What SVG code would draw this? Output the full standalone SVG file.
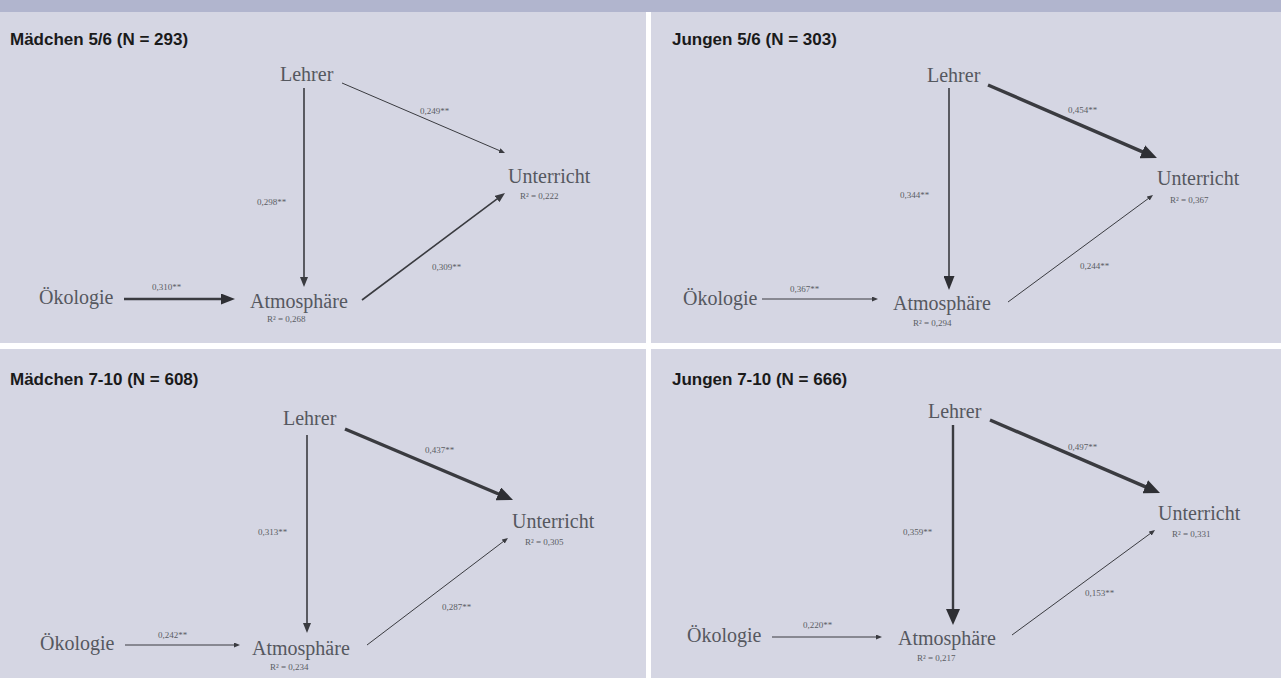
<svg xmlns="http://www.w3.org/2000/svg" width="1281" height="678" viewBox="0 0 1281 678">
<style>
.panel{fill:#d5d6e3}
.band{fill:#b1b5ce}
.title{font-family:"Liberation Sans",Arial,sans-serif;font-weight:bold;font-size:17px;fill:#1a1a1a}
.node{font-family:"Liberation Serif","Times New Roman",serif;font-size:20px;fill:#55585f}
.r2{font-family:"Liberation Serif","Times New Roman",serif;font-size:9px;fill:#5a5d64}
.coef{font-family:"Liberation Serif","Times New Roman",serif;font-size:9px;fill:#5a5d64}
.c{stroke:#3a3b40;fill:none}
.w1{stroke-width:1}
.w2{stroke-width:1.6}
.w3{stroke-width:2.4}
.w4{stroke-width:3.4}
</style>
<defs>
<marker id="s" markerUnits="userSpaceOnUse" markerWidth="7" markerHeight="5" refX="1" refY="2.5" orient="auto"><path d="M0,0 L6,2.5 L0,5 z" fill="#3a3b40"/></marker>
<marker id="m" markerUnits="userSpaceOnUse" markerWidth="11" markerHeight="8" refX="1" refY="4" orient="auto"><path d="M0,0 L10,4 L0,8 z" fill="#3a3b40"/></marker>
<marker id="m2" markerUnits="userSpaceOnUse" markerWidth="15" markerHeight="11" refX="1" refY="5.5" orient="auto"><path d="M0,0 L14,5.5 L0,11 z" fill="#2e2f34"/></marker>
<marker id="l" markerUnits="userSpaceOnUse" markerWidth="17" markerHeight="14" refX="1" refY="7" orient="auto"><path d="M0,0 L16,7 L0,14 z" fill="#2e2f34"/></marker>
</defs>
<rect x="0" y="0" width="1281" height="678" fill="#ffffff"/>
<rect class="band" x="0" y="0" width="1281" height="12"/>
<g id="panel-tl"><rect class="panel" x="0" y="12" width="646" height="331"/><text class="title" x="10" y="45">Mädchen 5/6 (N = 293)</text></g>
<g id="panel-tr"><rect class="panel" x="651" y="12" width="630" height="331"/><text class="title" x="672" y="45">Jungen 5/6 (N = 303)</text></g>
<g id="panel-bl"><rect class="panel" x="0" y="349" width="646" height="329"/><text class="title" x="10" y="385">Mädchen 7-10  (N = 608)</text></g>
<g id="panel-br"><rect class="panel" x="651" y="349" width="630" height="329"/><text class="title" x="672" y="385">Jungen 7-10 (N = 666)</text></g>

<g id="connectors">
<line class="c w3" x1="124" y1="299" x2="222" y2="299" marker-end="url(#m2)"/>
<line class="c w2" x1="304" y1="88" x2="304" y2="278" marker-end="url(#m)"/>
<line class="c w1" x1="342" y1="83" x2="500.4" y2="151" marker-end="url(#s)"/>
<line class="c w2" x1="362" y1="300" x2="497.8" y2="198.4" marker-end="url(#m)"/>

<line class="c w1" x1="762" y1="299" x2="873" y2="299" marker-end="url(#s)"/>
<line class="c w2" x1="949" y1="88" x2="949" y2="277" marker-end="url(#m2)"/>
<line class="c w4" x1="988" y1="85" x2="1143.2" y2="152.1" marker-end="url(#l)"/>
<line class="c w1" x1="1008" y1="302" x2="1149" y2="198" marker-end="url(#s)"/>

<line class="c w1" x1="125" y1="645" x2="235" y2="645" marker-end="url(#s)"/>
<line class="c w2" x1="307" y1="435" x2="307" y2="624" marker-end="url(#m)"/>
<line class="c w4" x1="345" y1="429" x2="499.2" y2="494.2" marker-end="url(#l)"/>
<line class="c w1" x1="367" y1="645" x2="504" y2="541" marker-end="url(#s)"/>

<line class="c w1" x1="772" y1="637" x2="877" y2="637" marker-end="url(#s)"/>
<line class="c w3" x1="953" y1="425" x2="953" y2="610" marker-end="url(#l)"/>
<line class="c w4" x1="990" y1="420" x2="1146.2" y2="487.1" marker-end="url(#l)"/>
<line class="c w1" x1="1012" y1="635" x2="1151" y2="533" marker-end="url(#s)"/>

<text class="coef" x="152" y="290">0,310**</text>
<text class="coef" x="257" y="205">0,298**</text>
<text class="coef" x="420" y="114">0,249**</text>
<text class="coef" x="432" y="270">0,309**</text>

<text class="coef" x="790" y="292">0,367**</text>
<text class="coef" x="900" y="198">0,344**</text>
<text class="coef" x="1068" y="113">0,454**</text>
<text class="coef" x="1080" y="269">0,244**</text>

<text class="coef" x="158" y="638">0,242**</text>
<text class="coef" x="258" y="535">0,313**</text>
<text class="coef" x="425" y="453">0,437**</text>
<text class="coef" x="442" y="610">0,287**</text>

<text class="coef" x="803" y="628">0,220**</text>
<text class="coef" x="903" y="535">0,359**</text>
<text class="coef" x="1068" y="450">0,497**</text>
<text class="coef" x="1085" y="596">0,153**</text>
</g>

<g id="tl-oekologie"><text class="node" x="39" y="304">Ökologie</text></g>
<g id="tl-lehrer"><text class="node" x="280" y="81">Lehrer</text></g>
<g id="tl-atmosphaere"><text class="node" x="250" y="308">Atmosphäre</text><text class="r2" x="267" y="322">R² = 0,268</text></g>
<g id="tl-unterricht"><text class="node" x="508" y="183">Unterricht</text><text class="r2" x="520" y="199">R² = 0,222</text></g>

<g id="tr-oekologie"><text class="node" x="683" y="305">Ökologie</text></g>
<g id="tr-lehrer"><text class="node" x="927" y="82">Lehrer</text></g>
<g id="tr-atmosphaere"><text class="node" x="893" y="310">Atmosphäre</text><text class="r2" x="913" y="326">R² = 0,294</text></g>
<g id="tr-unterricht"><text class="node" x="1157" y="185">Unterricht</text><text class="r2" x="1170" y="203">R² = 0,367</text></g>

<g id="bl-oekologie"><text class="node" x="40" y="650">Ökologie</text></g>
<g id="bl-lehrer"><text class="node" x="283" y="425">Lehrer</text></g>
<g id="bl-atmosphaere"><text class="node" x="252" y="655">Atmosphäre</text><text class="r2" x="270" y="670">R² = 0,234</text></g>
<g id="bl-unterricht"><text class="node" x="512" y="528">Unterricht</text><text class="r2" x="525" y="545">R² = 0,305</text></g>

<g id="br-oekologie"><text class="node" x="687" y="642">Ökologie</text></g>
<g id="br-lehrer"><text class="node" x="928" y="418">Lehrer</text></g>
<g id="br-atmosphaere"><text class="node" x="898" y="645">Atmosphäre</text><text class="r2" x="917" y="661">R² = 0,217</text></g>
<g id="br-unterricht"><text class="node" x="1158" y="520">Unterricht</text><text class="r2" x="1172" y="537">R² = 0,331</text></g>
</svg>
